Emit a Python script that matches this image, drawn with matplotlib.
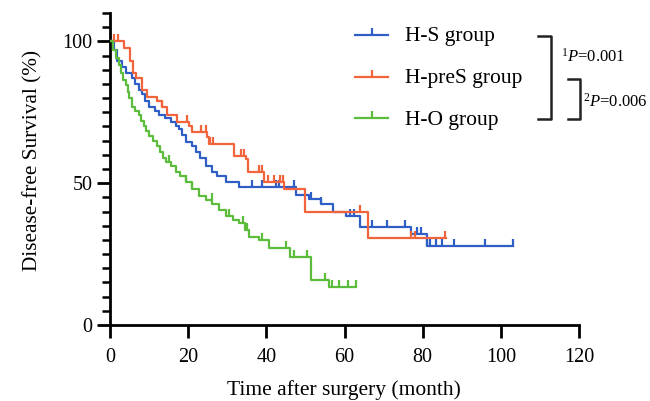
import numpy as np
import matplotlib
matplotlib.use("Agg")
import matplotlib.pyplot as plt
from matplotlib.lines import Line2D

plt.rcParams['font.family'] = ['Liberation Serif', 'DejaVu Serif']
plt.rcParams['mathtext.fontset'] = 'custom'
plt.rcParams['mathtext.rm'] = 'Liberation Serif'
plt.rcParams['mathtext.it'] = 'Liberation Serif:italic'

# ---------------- data ----------------
groups = ["H-S group", "H-preS group", "H-O group"]
colors = ["#2f5fc6", "#f2643c", "#5cbd3c"]

hs_t = [0, 1.0, 1.8, 3, 4, 5.6, 6.5, 7.5, 8.2, 9, 10, 11.5, 12.6, 14, 15.6, 17, 17.7, 18.5,
        19.5, 21, 22, 23, 24.6, 26, 27.5, 29.7, 33, 47.7, 51, 54, 57, 60.5, 64, 77, 81]
hs_s = [100, 97, 93, 91, 89, 87, 85, 83, 81.5, 79, 77, 75.5, 74, 73, 71.6, 70, 69, 67,
        64.5, 63, 61, 59, 56, 54, 52.5, 50.4, 48.6, 46, 44.3, 42.5, 40, 38.3, 34.4, 32, 28]
hs_end = 103
hs_cens = [36.4, 39, 42.5, 43.3, 47, 51.5, 54, 61.3, 62.5, 67, 71, 75.4, 78.5, 79.5, 81,
           82, 83.5, 85, 88, 96, 103]

hp_t = [0, 3.5, 5, 6, 6.6, 8.2, 9.5, 12, 13.4, 14.7, 17.2, 20.2, 21, 24.9, 25.4, 31.8,
        34.8, 35.2, 39.5, 44.6, 50, 66]
hp_s = [100, 97.5, 93, 89, 87, 83, 80.5, 79, 77, 74, 71.6, 70.2, 68, 66.3, 63.8, 59.6,
        58.5, 54, 50.4, 47.9, 40, 30.5]
hp_end = 86
hp_cens = [1, 2, 13.4, 19.7, 23.3, 24.6, 25.5, 26.3, 33.6, 34.4, 38.2, 39, 40.5, 42,
           43.5, 44.3, 64, 77, 78, 85.6]

ho_t = [0, 0.8, 1.5, 2.2, 2.8, 3.4, 4, 4.5, 4.9, 5.6, 6.5, 7.4, 8, 8.7, 9.3, 10, 11, 12,
        12.8, 13.6, 14.4, 15.5, 16.9, 18, 19.5, 21, 22.8, 24.5, 26.2, 28, 29.7, 31.5, 33,
        34.5, 35.6, 38.2, 40.8, 46, 51.5, 56]
ho_s = [100, 97, 94, 91.5, 89, 86.5, 84.5, 82, 80, 77, 75.5, 74, 72, 70, 68.5, 66.7, 65,
        63, 61, 59, 57.4, 56, 54, 52.5, 50.4, 48, 45.4, 44, 42.5, 40.5, 38.3, 37, 36, 33.5,
        31.2, 30, 27.3, 23.8, 16, 13.5]
ho_end = 63
ho_cens = [15, 19.5, 21, 26, 30.5, 34, 35, 39, 45, 47, 50.5, 55, 56.7, 58.7, 60.8, 63]

x_ticks = [0, 20, 40, 60, 80, 100, 120]
y_ticks = [0, 50, 100]
p_texts = ["0.001", "0.006"]

series = [(hs_t, hs_s, hs_end, hs_cens), (hp_t, hp_s, hp_end, hp_cens),
          (ho_t, ho_s, ho_end, ho_cens)]

# ---------------- figure ----------------
W, H = 650, 401
fig = plt.figure(figsize=(6.5, 4.01), dpi=100)
ax = fig.add_axes([110 / W, 1 - 325 / H, (579 - 110) / W, (325 - 13) / H])

tick_marker = [(0, 0), (0, 1)]
LW = 1.6

for (t, s, end, cens), c in zip(series, colors):
    t = np.array(t, float)
    s = np.array(s, float)
    tt = np.append(t, end)
    ss = np.append(s, s[-1])
    ax.step(tt, ss, where='post', color=c, lw=LW, zorder=3)
    cens = np.array(cens, float)
    idx = np.searchsorted(t, cens, side='right') - 1
    ax.plot(cens, s[idx], linestyle='none', marker=tick_marker, markersize=10,
            markeredgewidth=LW, color=c, zorder=3)

ax.set_xlim(0, 120)
ax.set_ylim(0, 110)
for sp in ['top', 'right']:
    ax.spines[sp].set_visible(False)
for sp in ['left', 'bottom']:
    ax.spines[sp].set_linewidth(2)
ax.set_xticks(x_ticks)
ax.set_yticks(y_ticks)
ax.set_yticks(np.arange(0, 111, 5), minor=True)
ax.tick_params(axis='both', which='major', length=9.5, width=2, labelsize=14.5)
ax.tick_params(axis='x', which='major', pad=7)
ax.tick_params(axis='y', which='major', pad=3)
ax.tick_params(axis='y', which='minor', length=6, width=1.8)
ax.tick_params(axis='x', which='minor', length=0)
ax.set_xlabel("Time after surgery (month)", fontsize=15.5, va='center')
ax.set_ylabel("Disease-free Survival (%)", fontsize=15.3, va='center')
ax.xaxis.set_label_coords((344 - 110) / (579 - 110), (325 - 390) / (325 - 13))
ax.yaxis.set_label_coords((33 - 110) / (579 - 110), (325 - 160) / (325 - 13))

# legend (drawn manually at figure positions)
def fx(x):
    return x / W

def fy(y):
    return 1 - y / H

rows = [35, 77, 118]
for g, c, yr in zip(groups, colors, rows):
    fig.add_artist(Line2D([fx(355), fx(388)], [fy(yr), fy(yr)], color=c, lw=LW,
                          transform=fig.transFigure))
    fig.add_artist(Line2D([fx(371.5)], [fy(yr)], color=c, linestyle='none',
                          marker=tick_marker, markersize=10, markeredgewidth=LW,
                          transform=fig.transFigure))
    fig.text(fx(405), fy(yr + 2), g, fontsize=15.5, va='center', ha='left')

def bracket(x0, x1, y0, y1):
    xs = [x0, x1, x1, x0]
    ys = [y0, y0, y1, y1]
    fig.add_artist(Line2D([fx(v) for v in xs], [fy(v) for v in ys],
                          color='#222222', lw=1.8, transform=fig.transFigure))

bracket(538, 551, 36, 119)
bracket(568, 580, 79, 119)
fig.text(fx(561), fy(57), r"$^{1}\mathit{P}$=" + p_texts[0], fontsize=12,
         va='center', ha='left')
fig.text(fx(583), fy(102), r"$^{2}\mathit{P}$=" + p_texts[1], fontsize=12,
         va='center', ha='left')

fig.savefig("out.png", dpi=100)
